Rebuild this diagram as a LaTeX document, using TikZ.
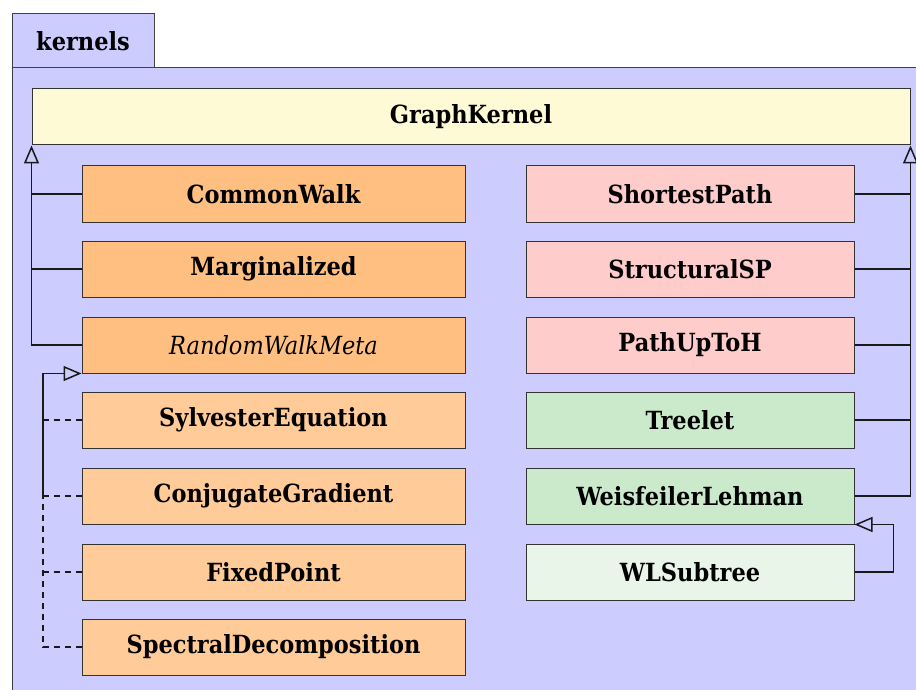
\documentclass[tikz,border=0pt]{standalone}
\usepackage{fontspec}
\setmainfont{DejaVu Serif Condensed}
\usetikzlibrary{arrows.meta}
\definecolor{pkgfill}{HTML}{CCCCFF}
\definecolor{basefill}{HTML}{FFFAD6}
\definecolor{walkfill}{HTML}{FFBF80}
\definecolor{walksub}{HTML}{FFCC99}
\definecolor{pathfill}{HTML}{FFCCCC}
\definecolor{treefill}{HTML}{CBE9CB}
\definecolor{subtfill}{HTML}{E8F5E8}
\tikzset{
  cls/.style={draw=black!80, line width=0.5pt, minimum height=28pt, inner sep=0pt},
  lcls/.style={cls, minimum width=191.5pt},
  rcls/.style={cls, minimum width=164pt},
  gen/.style={-{Triangle[open, length=9pt, width=7.5pt]}},
  wire/.style={line width=0.75pt, draw=black!90},
  realize/.style={wire, dash pattern=on 3pt off 2.5pt}
}
\begin{document}
\begin{tikzpicture}[x=0.5pt, y=-0.5pt, font=\bfseries\fontsize{12.5}{15}\selectfont]
  \useasboundingbox (0,0) rectangle (916,690);
  \clip (0,0) rectangle (916,690);
  % package frame
  \draw[fill=pkgfill, draw=black!75, line width=0.5pt] (12,68) rectangle (940,720);
  \draw[fill=pkgfill, draw=black!75, line width=0.5pt] (12,14) rectangle (154,68);
  \node (pkg) at (83,41) {kernels};

  \node[cls, fill=basefill, minimum width=439pt] (gk) at (471,117) {GraphKernel};

  % left column: random walk family
  \foreach \n/\t/\y/\c in {cw/CommonWalk/194/walkfill, mg/Marginalized/269/walkfill,
      rw/{\mdseries\itshape RandomWalkMeta}/345/walkfill, se/SylvesterEquation/420/walksub,
      cg/ConjugateGradient/496/walksub, fp/FixedPoint/572/walksub,
      sd/SpectralDecomposition/647/walksub} {
    \node[lcls, fill=\c] (\n) at (273.5,\y) {\t};
  }

  % right column: path and tree kernels
  \foreach \n/\t/\y/\c in {sp/ShortestPath/194/pathfill, ssp/StructuralSP/269/pathfill,
      ph/PathUpToH/345/pathfill, tl/Treelet/420/treefill,
      wl/WeisfeilerLehman/496/treefill, wls/WLSubtree/572/subtfill} {
    \node[rcls, fill=\c] (\n) at (690,\y) {\t};
  }

  % inheritance, left
  \draw[wire, gen] (rw.west) -| (gk.south west);
  \draw[wire] (cw.west) -- (cw.west -| gk.south west);
  \draw[wire] (mg.west) -- (mg.west -| gk.south west);

  % realizations of RandomWalkMeta
  \coordinate (rbus) at (43,647);
  \foreach \n in {se,cg,fp} {
    \draw[realize] (\n.west) -- (\n.west -| rbus);
  }
  \draw[realize] (sd.west) -| (cg.west -| rbus);
  \draw[wire, gen] (cg.west -| rbus) |- (rw.south west);

  % inheritance, right
  \draw[wire, gen] (wl.east) -| (gk.south east);
  \foreach \n in {sp,ssp,ph,tl} {
    \draw[wire] (\n.east) -- (\n.east -| gk.south east);
  }
  \draw[wire, gen] (wls.east) -- ++(39,0) |- (wl.south east);
\end{tikzpicture}
\end{document}
